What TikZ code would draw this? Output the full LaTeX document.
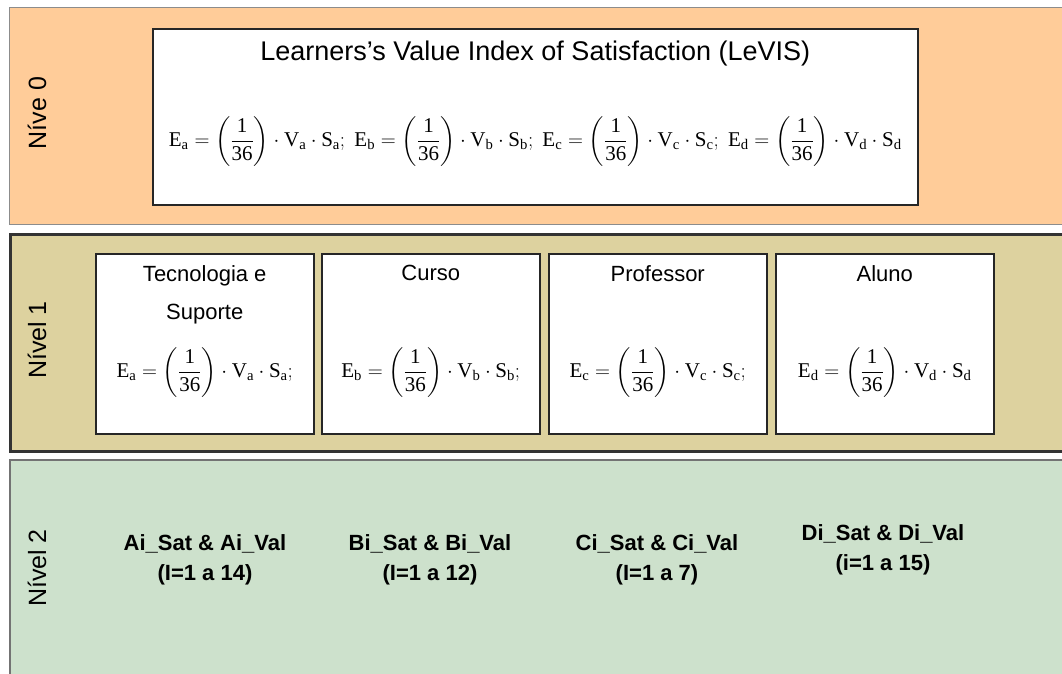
\documentclass[tikz,border=0pt]{standalone}
\usepackage{amsmath}
\usepackage{fontspec}
\setmainfont{Liberation Sans}
\setmathrm{Liberation Serif}
\usetikzlibrary{positioning}
\definecolor{lvlzero}{HTML}{FFCC99}
\definecolor{lvlone}{HTML}{DDD29F}
\definecolor{lvltwo}{HTML}{CDE1CC}
\newcommand{\levfrac}{\left(\dfrac{\mathrm{1}}{\mathrm{36}}\right)}
\newcommand{\levterm}[1]{\mathrm{E}_{\mathrm{#1}}=\levfrac\cdot\mathrm{V}_{\mathrm{#1}}\cdot\mathrm{S}_{\mathrm{#1}}}

\begin{document}
\begin{tikzpicture}[x=1pt, y=-1pt,
  band/.style={fill=#1, anchor=north west, inner sep=0pt, minimum width=1053pt},
  lvl/.style={rotate=90, font=\fontsize{25}{28}\selectfont},
  crit/.style={draw=black!85, fill=white, line width=1.5pt, anchor=north west,
    inner sep=0pt, minimum width=218pt, minimum height=180pt},
  ttl/.style={font=\fontsize{22}{26}\selectfont, inner sep=0pt},
  eq/.style={font=\fontsize{21}{24}\selectfont, inner sep=0pt},
  sub/.style={font=\bfseries\fontsize{22}{30}\selectfont, align=center, inner sep=0pt}]
\useasboundingbox (0,0) rectangle (1062,673);
% the three levels
\node[band=lvlzero, draw=black!45, line width=1pt, minimum height=217pt] (b0) at (9,7) {};
\node[band=lvlone, draw=black!80, line width=2.5pt, minimum height=217pt] (b1) at (9,233) {};
\node[band=lvltwo, draw=black!55, line width=1.5pt, minimum height=216pt] (b2) at (9,459) {};
\node[lvl] (n0) at (37,113) {Níve 0};
\node[lvl] (n1) at (37,340) {Nível 1};
\node[lvl] (n2) at (37,568) {Nível 2};
% level 0: the index
\node[crit, minimum width=765pt, minimum height=176pt] (c0) at (152,28) {};
\node[ttl, font=\fontsize{27}{30}\selectfont, below=13pt of c0.north] (t0)
  {Learners's Value Index of Satisfaction (LeVIS)};
\node[eq, below=88pt of c0.north] (f0)
  {$\levterm{a};\ \levterm{b};\ \levterm{c};\ \levterm{d}$};
% level 1: the four criteria
\node[crit] (c1) at (95,253) {};
\node[crit] (c2) at (321,253) {};
\node[crit] (c3) at (548,253) {};
\node[crit] (c4) at (775,253) {};
\node[ttl, below=12pt of c1.north] (t1) {Tecnologia e};
\node[ttl, below=39pt of t1.north] (t1b) {Suporte};
\node[ttl, below=12pt of c2.north] (t2) {Curso};
\node[ttl, below=12pt of c3.north] (t3) {Professor};
\node[ttl, below=12pt of c4.north] (t4) {Aluno};
\node[eq, below=94pt of c1.north] (f1) {$\levterm{a};$};
\node[eq, below=94pt of c2.north] (f2) {$\levterm{b};$};
\node[eq, below=94pt of c3.north] (f3) {$\levterm{c};$};
\node[eq, below=94pt of c4.north] (f4) {$\levterm{d}$};
% level 2: the items
\node[sub] (s1) at (205,560) {Ai\_Sat \& Ai\_Val\\(I=1 a 14)};
\node[sub] (s2) at (430,560) {Bi\_Sat \& Bi\_Val\\(I=1 a 12)};
\node[sub] (s3) at (657,560) {Ci\_Sat \& Ci\_Val\\(I=1 a 7)};
\node[sub] (s4) at (883,550) {Di\_Sat \& Di\_Val\\(i=1 a 15)};
\end{tikzpicture}
\end{document}
